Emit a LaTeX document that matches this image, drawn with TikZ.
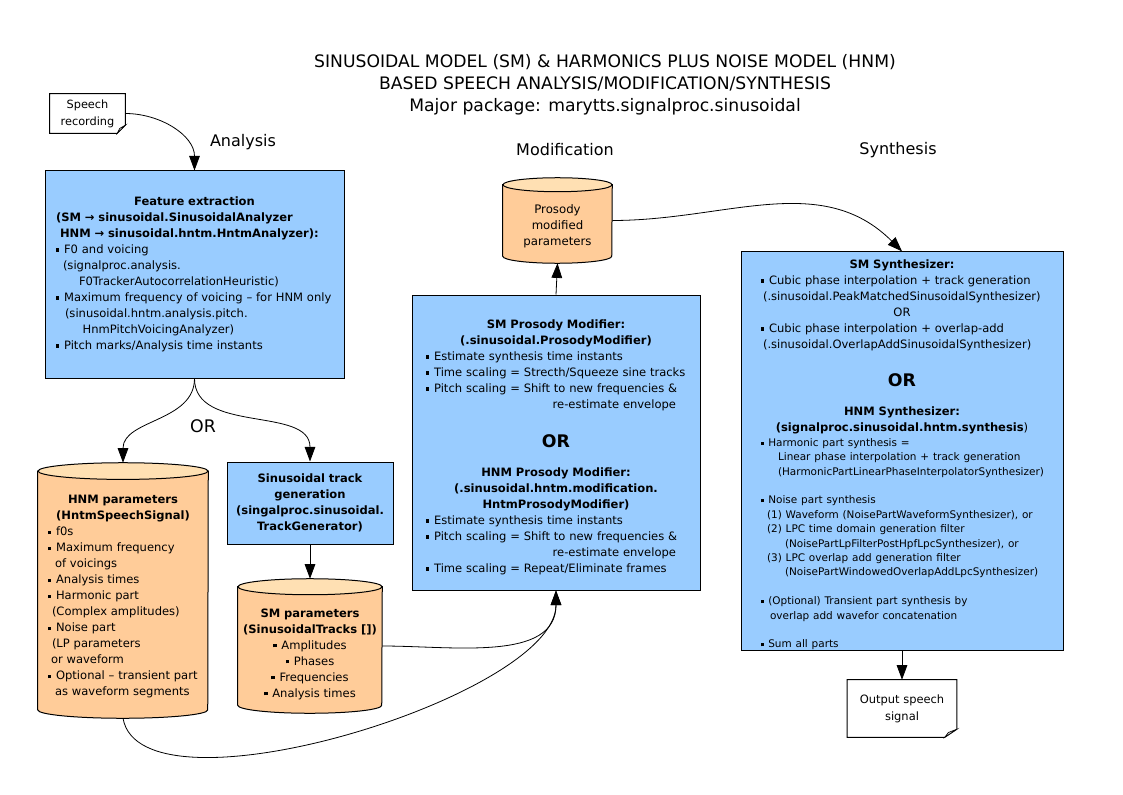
\documentclass[tikz,border=0pt]{standalone}
\usepackage{fontspec}
\setmainfont{DejaVu Sans}
\usetikzlibrary{arrows.meta,backgrounds}

\definecolor{boxblue}{HTML}{99CCFF}
\definecolor{cylbody}{HTML}{FFCC99}
\definecolor{cyltop}{HTML}{FFE0B3}
\definecolor{foldgrey}{HTML}{DDDDDD}

\setlength{\parindent}{0pt}
\newcommand{\boxfont}{\fontsize{8.65}{12}\selectfont}
\newcommand{\smallboxfont}{\fontsize{7.85}{10.8}\selectfont}
\newcommand{\bigor}{\fontsize{13}{16}\selectfont\bfseries OR}
\newcommand{\bul}{\rule[0.15em]{0.3em}{0.3em}\hspace{0.4em}}
\newcommand{\lft}[1]{\leftskip=#1\relax\rightskip=0pt plus 1fil\relax}
\newcommand{\topgap}[1]{\rule{0pt}{#1}}

% cylinder round a node: name, x radius, y radius
\newcommand{\cyl}[3]{%
  \filldraw[cylside] ([yshift=-#3]#1.north west) -- ([yshift=#3]#1.south west)
    arc[start angle=180, end angle=360, x radius=#2, y radius=#3]
    -- ([yshift=-#3]#1.north east) -- cycle;
  \filldraw[cyllid] ([yshift=-#3]#1.north) ellipse [x radius=#2, y radius=#3];
}
% note with folded corner: name, fold width, fold height
\newcommand{\note}[3]{%
  \filldraw[notefill] (#1.north west) -- (#1.north east) -- ([yshift=#3]#1.south east)
    -- ([xshift=-#2]#1.south east) -- (#1.south west) -- cycle;
  \filldraw[fill=foldgrey, line width=0.5pt] ([yshift=#3]#1.south east)
    -- ([xshift=-0.7*#2, yshift=0.6*#3]#1.south east) -- ([xshift=-#2]#1.south east) -- cycle;
}

\tikzset{
  procbox/.style={draw, fill=boxblue, line width=0.75pt, inner sep=0pt, font=\boxfont},
  cylnode/.style={inner sep=0pt, font=\boxfont},
  cylside/.style={fill=cylbody, draw, line width=0.75pt},
  cyllid/.style={fill=cyltop, draw, line width=0.75pt},
  notenode/.style={inner sep=0pt, align=center, font=\fontsize{8.5}{12.75}\selectfont},
  notefill/.style={fill=white, draw, line width=0.75pt},
  conn/.style={line width=0.6pt, -{Triangle[length=11pt,width=8pt]}},
  phase/.style={font=\fontsize{12}{14}\selectfont}
}

\begin{document}
\begin{tikzpicture}[x=0.75pt, y=0.75pt]
    \useasboundingbox (0,0) rectangle (1123,794);

    % Title and phases
    \node[align=center, font=\fontsize{12.9}{16.5}\selectfont] (title) at (605,709)
        {SINUSOIDAL MODEL (SM) \& HARMONICS PLUS NOISE MODEL (HNM)\\
         BASED SPEECH ANALYSIS/MODIFICATION/SYNTHESIS\\
         Major package: marytts.signalproc.sinusoidal};
    \node[phase] (ana) at (243,652) {Analysis};
    \node[phase] (modi) at (565,644) {Modification};
    \node[phase] (synt) at (898,644) {Synthesis};

    % Input and output
    \node[notenode, minimum width=56.25pt, minimum height=29.25pt] (rec) at (87.5,680.5) {Speech\\recording};
    \node[notenode, font=\fontsize{8.6}{12.75}\selectfont, minimum width=81.75pt, minimum height=42.75pt] (out) at (902,85.5) {Output speech\\signal};

    % Analysis
    \node[procbox, minimum width=224.25pt, minimum height=155.25pt, text width=224.25pt] (feat) at (194.5,519.5) {%
        \lft{8.25pt}%
        {\centering\bfseries Feature extraction\par}
        \textbf{(SM → sinusoidal.SinusoidalAnalyzer}\\
        \hspace*{3pt}\textbf{HNM → sinusoidal.hntm.HntmAnalyzer):}\\
        \bul F0 and voicing\\
        \hspace*{5.25pt}(signalproc.analysis.\\
        \hspace*{17.25pt}F0TrackerAutocorrelationHeuristic)\\
        \bul Maximum frequency of voicing – for HNM only\\
        \hspace*{6.75pt}(sinusoidal.hntm.analysis.pitch.\\
        \hspace*{20pt}HnmPitchVoicingAnalyzer)\\
        \bul Pitch marks/Analysis time instants\par};
    \node[font=\fontsize{13}{15}\selectfont] (or1) at (203,368) {OR};

    \node[cylnode, minimum width=127.5pt, minimum height=191.25pt, text width=127.5pt] (hnm) at (123,203.5) {%
        \lft{7.5pt}%
        {\centering\bfseries\topgap{16pt}HNM parameters\\(HntmSpeechSignal)\par}
        \bul f0s\\
        \bul Maximum frequency\\
        \hspace*{5.25pt}of voicings\\
        \bul Analysis times\\
        \bul Harmonic part\\
        \hspace*{3pt}(Complex amplitudes)\\
        \bul Noise part\\
        \hspace*{3pt}(LP parameters\\
        \hspace*{2.25pt}or waveform\\
        \bul Optional – transient part\\
        \hspace*{5.25pt}as waveform segments\par};

    \node[procbox, minimum width=124.5pt, minimum height=61.5pt, text width=124.5pt] (trk) at (310,291) {%
        {\centering\bfseries Sinusoidal track\\generation\\(singalproc.sinusoidal.\\TrackGenerator)\par}};

    \node[cylnode, minimum width=108pt, minimum height=100.5pt, text width=108pt] (smp) at (310,148) {%
        \centering
        {\bfseries\topgap{18.4pt}SM parameters\\(SinusoidalTracks [])\\}
        \bul Amplitudes\\
        \bul Phases\\
        \bul Frequencies\\
        \bul Analysis times\par};

    % Modification
    \node[procbox, minimum width=216pt, minimum height=221.25pt, text width=216pt] (mid) at (556,351.5) {%
        \lft{10.5pt}%
        {\centering\bfseries\topgap{14pt}SM Prosody Modifier:\\(.sinusoidal.ProsodyModifier)\par}
        \bul Estimate synthesis time instants\\
        \bul Time scaling = Strecth/Squeeze sine tracks\\
        \bul Pitch scaling = Shift to new frequencies \&\\
        \hspace*{95pt}re-estimate envelope\par
        \vspace{13pt}{\centering\bigor\par}
        \vspace{10pt}{\centering\bfseries HNM Prosody Modifier:\\(.sinusoidal.hntm.modification.\\HntmProsodyModifier)\par}
        \bul Estimate synthesis time instants\\
        \bul Pitch scaling = Shift to new frequencies \&\\
        \hspace*{95pt}re-estimate envelope\\
        \bul Time scaling = Repeat/Eliminate frames\par};

    \node[cylnode, font=\fontsize{8.8}{12}\selectfont, minimum width=81.75pt, minimum height=63.75pt, text width=81.75pt] (pros) at (557.5,573.5) {%
        {\centering\topgap{14.9pt}Prosody\\modified\\parameters\par}};

    % Synthesis
    \node[procbox, minimum width=241.5pt, minimum height=298.5pt, text width=241.5pt] (syn) at (902,343) {%
        \lft{15pt}%
        {\centering\bfseries\topgap{12.6pt}SM Synthesizer:\par}
        \bul Cubic phase interpolation + track generation\\
        \hspace*{1.5pt}(.sinusoidal.PeakMatchedSinusoidalSynthesizer)\par
        {\centering OR\par}
        \bul Cubic phase interpolation + overlap-add\\
        \hspace*{1.5pt}(.sinusoidal.OverlapAddSinusoidalSynthesizer)\par
        \vspace{12.5pt}{\centering\bigor\par}
        \vspace{10pt}{\centering\bfseries HNM Synthesizer:\\(signalproc.sinusoidal.hntm.synthesis\mdseries)\par}
        {\smallboxfont
        \bul Harmonic part synthesis =\\
        \hspace*{12.75pt}Linear phase interpolation + track generation\\
        \hspace*{12.75pt}(HarmonicPartLinearPhaseInterpolatorSynthesizer)\\[10.8pt]
        \bul Noise part synthesis\\
        \hspace*{4.5pt}(1) Waveform (NoisePartWaveformSynthesizer), or\\
        \hspace*{4.5pt}(2) LPC time domain generation filter\\
        \hspace*{18pt}(NoisePartLpFilterPostHpfLpcSynthesizer), or\\
        \hspace*{4.5pt}(3) LPC overlap add generation filter\\
        \hspace*{18pt}(NoisePartWindowedOverlapAddLpcSynthesizer)\\[10.8pt]
        \bul (Optional) Transient part synthesis by\\
        \hspace*{6.75pt}overlap add wavefor concatenation\\[10.8pt]
        \bul Sum all parts\par}};

    % Shapes behind the texts
    \begin{scope}[on background layer]
        \cyl{hnm}{63.75pt}{6.25pt}
        \cyl{smp}{54pt}{6pt}
        \cyl{pros}{40.875pt}{5.25pt}
        \note{rec}{6pt}{6pt}
        \note{out}{9pt}{6pt}
    \end{scope}

    % Connectors
    \draw[conn] (rec.east) to[out=0,in=90] (feat.north);
    \draw[conn] (feat.south) to[out=270,in=90] (hnm.north);
    \draw[conn] (feat.south) to[out=270,in=90] (trk.north);
    \draw[conn] (trk.south) -- (smp.north);
    \draw[conn] (smp.east) to[out=0,in=270] (mid.south);
    \draw[conn] (hnm.south) to[out=280,in=270,looseness=0.6] (mid.south);
    \draw[conn] (mid.north) -- (pros.south);
    \draw[conn] (pros.east) to[out=0,in=135] (syn.north);
    \draw[conn] (syn.south) -- (out.north);
\end{tikzpicture}
\end{document}
